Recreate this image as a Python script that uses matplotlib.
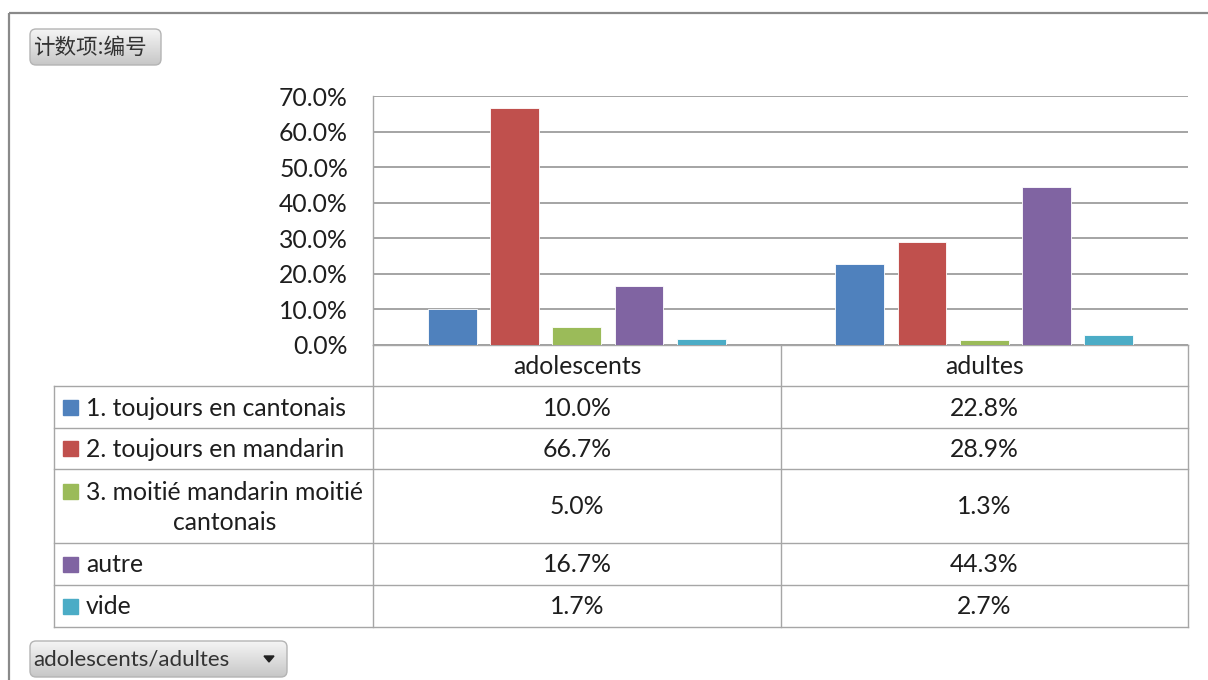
import matplotlib
matplotlib.use("Agg")
import matplotlib.pyplot as plt
import numpy as np
from matplotlib.patches import FancyBboxPatch, Rectangle, Polygon
from matplotlib.ticker import FuncFormatter

# ---- data ----
categories = ["adolescents", "adultes"]
series_names = ["1. toujours en cantonais", "2. toujours en mandarin",
                "3. moitié mandarin moitié\ncantonais", "autre", "vide"]
values_adolescents = [0.100, 0.667, 0.050, 0.167, 0.017]
values_adultes = [0.228, 0.289, 0.013, 0.443, 0.027]
y_ticks = [0.0, 0.1, 0.2, 0.3, 0.4, 0.5, 0.6, 0.7]
field_button = "计数项:编号"
axis_button = "adolescents/adultes"

colors = ["#4F81BD", "#C0504D", "#9BBB59", "#8064A2", "#4BACC6"]
FONT = ["Lato", "DejaVu Sans"]
CJK = ["Noto Sans CJK SC", "DejaVu Sans"]
TXT = "#1e1e1e"
FS = 17.8

W, H = 1208, 680
fig = plt.figure(figsize=(W / 100, H / 100), dpi=100)
fig.patch.set_facecolor("white")

# overlay axes in pixel coordinates
ov = fig.add_axes([0, 0, 1, 1])
ov.set_xlim(0, W)
ov.set_ylim(H, 0)
ov.axis("off")

# frame
ov.plot([9, W], [13, 13], color="#8a8a8a", lw=1.6, solid_capstyle="butt")
ov.plot([9, 9], [13, H], color="#8a8a8a", lw=1.6, solid_capstyle="butt")

# plot area geometry (px)
PL, PR, PT, PB = 373, 1188, 96, 345
ax = fig.add_axes([PL / W, 1 - PB / H, (PR - PL) / W, (PB - PT) / H])
ax.set_facecolor("none")
ax.set_xlim(-0.5, len(categories) - 0.5)
ax.set_ylim(0, 0.7)

step, bw = 0.1527, 0.12
all_vals = [values_adolescents, values_adultes]
for j, name in enumerate(series_names):
    vals = [all_vals[i][j] for i in range(len(categories))]
    xs = np.arange(len(categories)) + (j - 2) * step
    ax.bar(xs, vals, width=bw, color=colors[j], edgecolor="white", linewidth=0.6, zorder=3)

ax.set_yticks(y_ticks)
ax.yaxis.set_major_formatter(FuncFormatter(lambda v, p: f"{v*100:.1f}%"))
ax.yaxis.grid(True, color="#8c8c8c", lw=1.1, zorder=0)
ax.set_xticks([])
ax.tick_params(axis="y", length=0, pad=18, labelsize=FS, labelcolor=TXT)
for lab in ax.get_yticklabels():
    lab.set_family(FONT)
for s in ["top", "right", "bottom"]:
    ax.spines[s].set_visible(False)
ax.spines["left"].set_color("#a6a6a6")
ax.spines["left"].set_linewidth(1.0)

# data table
LC = "#a6a6a6"
LW = 1.0
TL = 54
colx = [PL, 781, PR]
rows = [386, 428, 469, 543, 585, 627]
ov.plot([PL, PR], [PB, PB], color=LC, lw=LW)
for y in rows:
    ov.plot([TL, PR], [y, y], color=LC, lw=LW)
for x in colx:
    ov.plot([x, x], [PB, rows[-1]], color=LC, lw=LW)
ov.plot([TL, TL], [rows[0], rows[-1]], color=LC, lw=LW)

# header
for i, c in enumerate(categories):
    ov.text((colx[i] + colx[i + 1]) / 2, (PB + rows[0]) / 2 + 1, c, ha="center", va="center",
            fontsize=FS, family=FONT, color=TXT)

# rows
for j, name in enumerate(series_names):
    y0, y1 = rows[j], rows[j + 1]
    yc = (y0 + y1) / 2
    lines = name.split("\n")
    if len(lines) == 1:
        ov.add_patch(Rectangle((63, yc - 7.5), 15, 15, color=colors[j]))
        ov.text(86, yc + 1, name, ha="left", va="center", fontsize=FS, family=FONT, color=TXT)
    else:
        ya, yb = yc - 15, yc + 15
        ov.add_patch(Rectangle((63, ya - 7.5), 15, 15, color=colors[j]))
        ov.text(86, ya + 1, lines[0], ha="left", va="center", fontsize=FS, family=FONT, color=TXT)
        ov.text(225, yb + 1, lines[1], ha="center", va="center", fontsize=FS, family=FONT, color=TXT)
    for i in range(len(categories)):
        v = all_vals[i][j]
        ov.text((colx[i] + colx[i + 1]) / 2, yc + 1, f"{v*100:.1f}%", ha="center", va="center",
                fontsize=FS, family=FONT, color=TXT)

# buttons
def button(x0, y0, x1, y1, label, family, fs, arrow=False):
    patch = FancyBboxPatch((x0 + 4, y0 + 4), (x1 - x0) - 8, (y1 - y0) - 8,
                           boxstyle="round,pad=4,rounding_size=6",
                           facecolor="none", edgecolor="#b4b4b4", lw=1.0, zorder=5)
    ov.add_patch(patch)
    grad = np.linspace(0, 1, 64).reshape(-1, 1)
    top = np.array([0.96, 0.96, 0.96])
    bot = np.array([0.78, 0.78, 0.78])
    img = top + (bot - top) * grad[..., None]
    im = ov.imshow(img, extent=(x0, x1, y1, y0), aspect="auto", zorder=4, interpolation="bilinear")
    im.set_clip_path(patch)
    ov.set_xlim(0, W)
    ov.set_ylim(H, 0)
    ov.text(x0 + 3, (y0 + y1) / 2 + 1, label, ha="left", va="center", fontsize=fs,
            family=family, color="#333333", zorder=6)
    if arrow:
        ov.add_patch(Polygon([[x1 - 23, (y0 + y1) / 2 - 3], [x1 - 13, (y0 + y1) / 2 - 3],
                              [x1 - 18, (y0 + y1) / 2 + 3]], closed=True, color="#222222", zorder=6))

button(30, 29, 161, 65, field_button, CJK, 15.5)
button(30, 641, 287, 677, axis_button, FONT, 16, arrow=True)

fig.savefig("out.png", dpi=100, facecolor="white")
